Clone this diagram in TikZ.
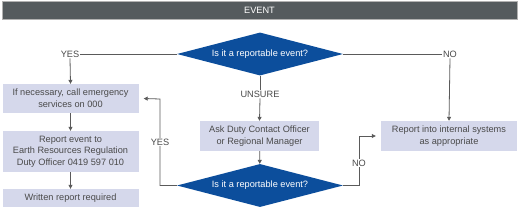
\documentclass[tikz,border=0pt]{standalone}
\usepackage{fontspec}
\setmainfont{Liberation Sans}
\usetikzlibrary{arrows.meta,shapes.geometric}
\definecolor{evgrey}{HTML}{555B5E}
\definecolor{evblue}{HTML}{0C4E9C}
\definecolor{evband}{HTML}{D5D8EB}
\definecolor{evline}{HTML}{5A5A5A}
\definecolor{evtext}{HTML}{4A4A4A}

\begin{document}
\begin{tikzpicture}[x=1pt, y=-1pt,
  box/.style={fill=evband, text=evtext, font=\fontsize{9.2}{11.6}\selectfont,
    align=center, inner sep=0pt},
  ask/.style={diamond, aspect=3.86, fill=evblue, text=white, font=\fontsize{9.2}{11}\selectfont,
    minimum width=166pt, minimum height=43pt, inner sep=0pt},
  arr/.style={-{Triangle[length=4pt, width=4pt]}, line width=0.8pt, evline},
  ln/.style={line width=0.8pt, evline},
  lab/.style={font=\fontsize{9.2}{11}\selectfont, text=evtext, fill=white, inner sep=1pt}]
\useasboundingbox (0,0) rectangle (520,217);
\node[fill=evgrey, draw=gray!60, line width=0.6pt, text=white, font=\fontsize{9.2}{11}\selectfont,
  minimum width=515pt, minimum height=18pt, inner sep=0pt] (event) at (259.5,10) {EVENT};
\node[ask] (q1) at (260,54) {Is it a reportable event?};
\node[lab] (yes1) at (70,54) {YES};
\node[lab] (no1) at (450,54) {NO};
\node[box, minimum width=136pt, minimum height=29pt] (call) at (70.5,98.5)
  {If necessary, call emergency\\services on 000};
\node[box, minimum width=136pt, minimum height=41pt] (report) at (70.5,151.5)
  {Report event to\\Earth Resources Regulation\\Duty Officer 0419 597 010};
\node[box, minimum width=136pt, minimum height=18pt] (written) at (70.5,198)
  {Written report required};
\node[lab] (unsure) at (260,94) {UNSURE};
\node[box, minimum width=119pt, minimum height=30pt] (ask) at (259.5,136)
  {Ask Duty Contact Officer\\or Regional Manager};
\node[ask] (q2) at (260,185.5) {Is it a reportable event?};
\node[box, minimum width=136pt, minimum height=30pt] (internal) at (449,136)
  {Report into internal systems\\as appropriate};
\coordinate (yesturn) at (160,99);
\coordinate (noturn) at (359,136);
\draw[ln] (q1.west) -- (yes1.east);
\draw[ln] (q1.east) -- (no1.west);
\draw[arr] (yes1.south) -- (call.north);
\draw[arr] (no1.south) -- (internal.north);
\draw[arr] (call) -- (report);
\draw[arr] (report) -- (written);
\draw[ln] (q1.south) -- (unsure.north);
\draw[arr] (unsure.south) -- (ask.north);
\draw[arr] (ask) -- (q2);
\draw[arr] (q2.west) -| (yesturn) -- ([xshift=5pt]call.east);
\draw[arr] (q2.east) -| (noturn) -- ([xshift=-5pt]internal.west);
\node[lab] (yes2) at (160,142) {YES};
\node[lab] (no2) at (359,163) {NO};
\end{tikzpicture}
\end{document}
